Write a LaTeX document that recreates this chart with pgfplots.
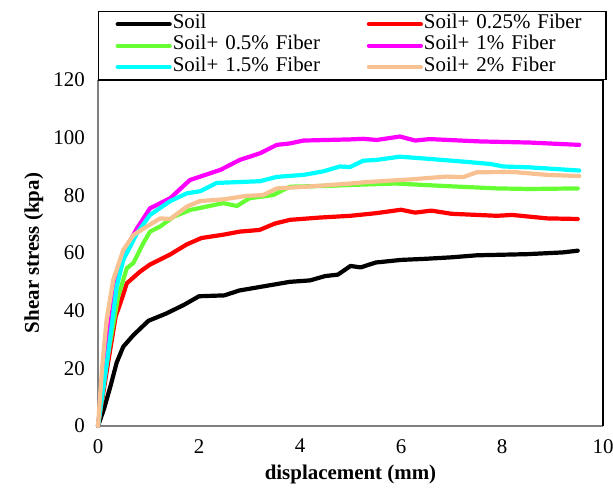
\documentclass[border=0pt]{standalone}
\usepackage{fontspec}
\setmainfont{Liberation Serif}
\usepackage{pgfplots}
\pgfplotsset{compat=1.18}
\usetikzlibrary{calc}
\definecolor{cgreen}{HTML}{66FF33}
\definecolor{cpeach}{HTML}{F8C192}
\definecolor{ccyan}{HTML}{00FFFF}
\definecolor{cmag}{HTML}{FF00FF}
\definecolor{cred}{HTML}{FF0000}
\begin{document}
\fontsize{21}{25}\selectfont
\begin{tikzpicture}
\begin{axis}[
  scale only axis, width=505bp, height=346bp,
  xmin=0, xmax=10, ymin=0, ymax=120,
  xtick={0,2,...,10}, ytick={0,20,...,120},
  major tick length=0pt,
  /pgf/number format/assume math mode=true,
  tick label style={font=\fontsize{21}{25}\selectfont},
  xticklabel style={yshift=-6bp},
  yticklabel style={xshift=-6bp},
  axis x line*=bottom, axis y line*=left,
  axis line style={gray, line width=1.2bp, -},
  xlabel={\textbf{displacement (mm)}},
  ylabel={\textbf{Shear stress (kpa)}},
  label style={font=\fontsize{21}{25}\selectfont},
  xlabel style={yshift=2bp},
  ylabel style={yshift=-4bp},
  every axis plot/.append style={line width=4.2bp, line cap=round, line join=round},
  legend columns=2,
  legend cell align=left,
  legend style={at={(rel axis cs:0,1)}, anchor=south west, draw=black, line width=1.2bp,
    font=\fontsize{21}{22}\selectfont, inner xsep=17bp, inner ysep=1.5bp,
    row sep=0bp,
    nodes={text width=164bp, inner xsep=1bp, inner ysep=0pt, text height=15bp, text depth=6.5bp}},
  legend image code/.code={\draw[line width=4.2bp, line cap=round] (0bp,0bp) -- (52bp,0bp);},
  /tikz/every even column/.append style={column sep=29bp},
  clip=false,
]
\addplot[black] coordinates {(0,0) (0.12,6) (0.25,14) (0.37,22) (0.5,27.5) (0.7,31.5) (1.0,36.5) (1.35,39) (1.7,42) (2.0,45) (2.5,45.3) (2.8,47) (3.3,48.5) (3.8,50) (4.2,50.5) (4.5,52) (4.75,52.5) (5.0,55.5) (5.2,55) (5.5,56.7) (6.0,57.6) (6.5,58) (7.0,58.5) (7.5,59.2) (8.5,59.6) (9.2,60.2) (9.5,60.8)};
\addlegendentry{Soil}
\addplot[cred] coordinates {(0,0) (0.2,22) (0.35,38) (0.47,44) (0.57,49.5) (0.83,53.5) (1.03,56) (1.43,59.5) (1.76,63) (2.05,65.2) (2.5,66.4) (2.8,67.4) (3.2,68) (3.5,70.2) (3.8,71.5) (4.4,72.3) (5.0,72.9) (5.5,73.8) (6.0,75) (6.28,74) (6.6,74.7) (7.0,73.6) (7.9,72.9) (8.2,73.2) (8.9,72) (9.5,71.8)};
\addlegendentry{Soil+ 0.25\% Fiber}
\addplot[cgreen] coordinates {(0,0) (0.2,25) (0.4,45) (0.57,54.7) (0.7,56.5) (0.9,63.5) (1.03,67.4) (1.23,69.2) (1.5,72.6) (1.82,74.9) (2.15,76.1) (2.48,77.3) (2.75,76.3) (3.0,79) (3.47,80.1) (3.8,83) (4.6,83.3) (5.0,83.6) (5.9,84.1) (6.9,83.2) (7.9,82.4) (8.55,82.2) (9.5,82.4)};
\addlegendentry{Soil+ 0.5\% Fiber}
\addplot[cmag] coordinates {(0,0) (0.2,30) (0.35,48) (0.5,60) (0.77,68.5) (1.03,75.5) (1.43,79) (1.82,85.3) (2.42,88.8) (2.81,92.3) (3.21,94.6) (3.54,97.5) (3.8,98) (4.07,99) (5.0,99.4) (5.25,99.6) (5.52,99.2) (5.98,100.4) (6.28,99) (6.57,99.5) (7.56,98.7) (8.55,98.3) (9.53,97.5)};
\addlegendentry{Soil+ 1\% Fiber}
\addplot[ccyan] coordinates {(0,0) (0.2,25) (0.37,48.3) (0.5,57.6) (0.77,66.8) (1.03,73.2) (1.43,78) (1.76,80.7) (2.02,81.4) (2.35,84.3) (3.21,84.9) (3.54,86.4) (4.07,87.1) (4.46,88.3) (4.79,90) (4.99,89.8) (5.25,92) (5.52,92.3) (5.98,93.4) (6.44,92.8) (7.23,91.7) (7.76,90.9) (8.03,90) (8.55,89.7) (9.53,88.6)};
\addlegendentry{Soil+ 1.5\% Fiber}
\addplot[cpeach] coordinates {(0,0) (0.08,20) (0.17,36.8) (0.3,50.6) (0.5,61) (0.7,66.2) (0.96,69.1) (1.23,72) (1.43,71.8) (1.76,76.1) (2.02,78) (2.48,78.6) (2.94,79.8) (3.27,80.1) (3.54,82.4) (4.13,83) (5.0,84.1) (5.25,84.5) (6.24,85.6) (6.9,86.5) (7.23,86.3) (7.5,88) (8.22,88.1) (8.88,87.1) (9.53,86.7)};
\addlegendentry{Soil+ 2\% Fiber}
\draw[black, line width=1.2bp] (rel axis cs:0,1) -- (rel axis cs:1,1) -- (rel axis cs:1,0);
\end{axis}
\pgfresetboundingbox
\useasboundingbox ($(current axis.south west)+(-98bp,-76bp)$) rectangle ($(current axis.north east)+(10bp,80bp)$);
\end{tikzpicture}
\end{document}
